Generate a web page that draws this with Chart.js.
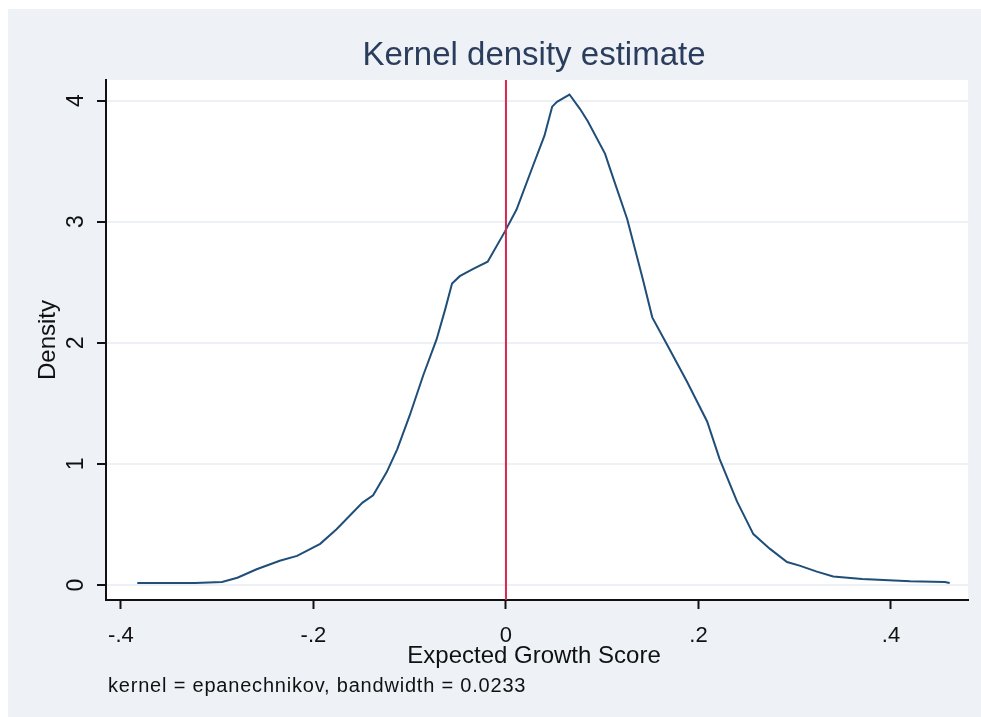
<!DOCTYPE html>
<html>
<head>
<meta charset="utf-8">
<script src="https://cdn.jsdelivr.net/npm/chart.js@4.4.1/dist/chart.umd.min.js"></script>
<style>
  html, body { margin: 0; padding: 0; background: #ffffff; }
  #wrap { width: 981px; height: 717px; }
</style>
</head>
<body>
<div id="wrap"><canvas id="c" width="981" height="717"></canvas></div>
<script>
// ---- data ----
const scoreX = [-0.383, -0.323, -0.295, -0.279, -0.259, -0.235, -0.217, -0.193, -0.176, -0.149,
  -0.138, -0.124, -0.113, -0.100, -0.086, -0.072, -0.063, -0.056, -0.048, -0.034,
  -0.019, -0.001, 0.011, 0.028, 0.040, 0.048, 0.053, 0.066, 0.077, 0.085,
  0.103, 0.108, 0.126, 0.142, 0.152, 0.167, 0.188, 0.209, 0.222,
  0.240, 0.257, 0.274, 0.292, 0.305, 0.323, 0.340, 0.370, 0.420, 0.456, 0.461];
const densityY = [0.017, 0.017, 0.025, 0.06, 0.13, 0.20, 0.24, 0.34, 0.46, 0.68,
  0.74, 0.93, 1.12, 1.40, 1.73, 2.03, 2.28, 2.49, 2.55, 2.61,
  2.67, 2.92, 3.10, 3.46, 3.71, 3.95, 3.99, 4.05, 3.93, 3.83,
  3.56, 3.44, 3.02, 2.53, 2.21, 1.99, 1.68, 1.35, 1.04,
  0.69, 0.42, 0.30, 0.19, 0.16, 0.11, 0.07, 0.05, 0.03, 0.025, 0.017];
const refLineX = 0;
const xTicks = [-0.4, -0.2, 0, 0.2, 0.4];
const xTickLabels = ['-.4', '-.2', '0', '.2', '.4'];
const yTicks = [0, 1, 2, 3, 4];
const yTickLabels = ['0', '1', '2', '3', '4'];
const xRange = [-0.4155, 0.48];
const yRange = [-0.124, 4.17];
const titleText = 'Kernel density estimate';
const xTitleText = 'Expected Growth Score';
const yTitleText = 'Density';
const noteText = 'kernel = epanechnikov, bandwidth = 0.0233';

const FONT = '"Liberation Sans", Arial, sans-serif';
const curvePoints = scoreX.map((x, i) => ({ x: x, y: densityY[i] }));
const refPoints = [{ x: refLineX, y: yRange[0] }, { x: refLineX, y: yRange[1] }];

const bgPlugin = {
  id: 'bg',
  beforeDraw(chart) {
    const ctx = chart.ctx, a = chart.chartArea;
    ctx.save();
    ctx.fillStyle = '#ffffff';
    ctx.fillRect(0, 0, chart.width, chart.height);
    ctx.fillStyle = '#EEF2F7';
    ctx.fillRect(8, 9, chart.width - 8, chart.height - 9);
    ctx.fillStyle = '#ffffff';
    ctx.fillRect(a.left, a.top, a.right - a.left, a.bottom - a.top);
    ctx.restore();
  }
};

const textPlugin = {
  id: 'texts',
  afterDraw(chart) {
    const ctx = chart.ctx, a = chart.chartArea;
    const xs = chart.scales.x, ys = chart.scales.y;
    ctx.save();
    // title
    ctx.fillStyle = '#2b3d5c';
    ctx.font = '33px ' + FONT;
    ctx.textAlign = 'center';
    ctx.textBaseline = 'alphabetic';
    ctx.fillText(titleText, 534, 65);
    // x tick labels
    ctx.fillStyle = '#111111';
    ctx.font = '22px ' + FONT;
    xTicks.forEach((v, i) => {
      ctx.fillText(xTickLabels[i], xs.getPixelForValue(v), 642);
    });
    // x title
    ctx.font = '24px ' + FONT;
    ctx.fillText(xTitleText, 534, 663);
    // note
    ctx.font = '20px ' + FONT;
    ctx.textAlign = 'left';
    if ('letterSpacing' in ctx) ctx.letterSpacing = '0.8px';
    ctx.fillText(noteText, 108, 692);
    if ('letterSpacing' in ctx) ctx.letterSpacing = '0px';
    // y tick labels (rotated)
    ctx.font = '23px ' + FONT;
    ctx.textAlign = 'center';
    yTicks.forEach((v, i) => {
      ctx.save();
      ctx.translate(83, ys.getPixelForValue(v));
      ctx.rotate(-Math.PI / 2);
      ctx.fillText(yTickLabels[i], 0, 0);
      ctx.restore();
    });
    // y title
    ctx.font = '24px ' + FONT;
    ctx.save();
    ctx.translate(55, (a.top + a.bottom) / 2);
    ctx.rotate(-Math.PI / 2);
    ctx.fillText(yTitleText, 0, 0);
    ctx.restore();
    ctx.restore();
  }
};

new Chart(document.getElementById('c'), {
  type: 'line',
  data: {
    datasets: [
      {
        data: refPoints,
        borderColor: '#d8264f',
        borderWidth: 2,
        pointRadius: 0,
        tension: 0,
        fill: false
      },
      {
        data: curvePoints,
        borderColor: '#1f4e79',
        borderWidth: 2,
        pointRadius: 0,
        tension: 0,
        fill: false
      }
    ]
  },
  options: {
    responsive: false,
    devicePixelRatio: 1,
    animation: false,
    events: [],
    layout: { padding: { left: 0, top: 80, right: 13, bottom: 0 } },
    plugins: {
      legend: { display: false },
      tooltip: { enabled: false },
      title: { display: false }
    },
    scales: {
      x: {
        type: 'linear',
        position: 'bottom',
        min: xRange[0],
        max: xRange[1],
        afterBuildTicks(scale) { scale.ticks = xTicks.map(v => ({ value: v })); },
        afterFit(scale) { scale.height = 117; },
        ticks: { display: false },
        grid: {
          drawOnChartArea: false,
          drawTicks: true,
          tickLength: 9,
          tickColor: '#111111',
          tickWidth: 2,
          color: 'rgba(0,0,0,0)'
        },
        border: { display: true, color: '#111111', width: 2 }
      },
      y: {
        type: 'linear',
        min: yRange[0],
        max: yRange[1],
        afterBuildTicks(scale) { scale.ticks = yTicks.map(v => ({ value: v })); },
        afterFit(scale) { scale.width = 106; },
        ticks: { display: false },
        grid: {
          drawOnChartArea: true,
          drawTicks: true,
          tickLength: 9,
          tickColor: '#111111',
          tickWidth: 2,
          color: '#EDF1F6',
          lineWidth: 2
        },
        border: { display: true, color: '#111111', width: 2 }
      }
    }
  },
  plugins: [bgPlugin, textPlugin]
});
</script>
</body>
</html>
